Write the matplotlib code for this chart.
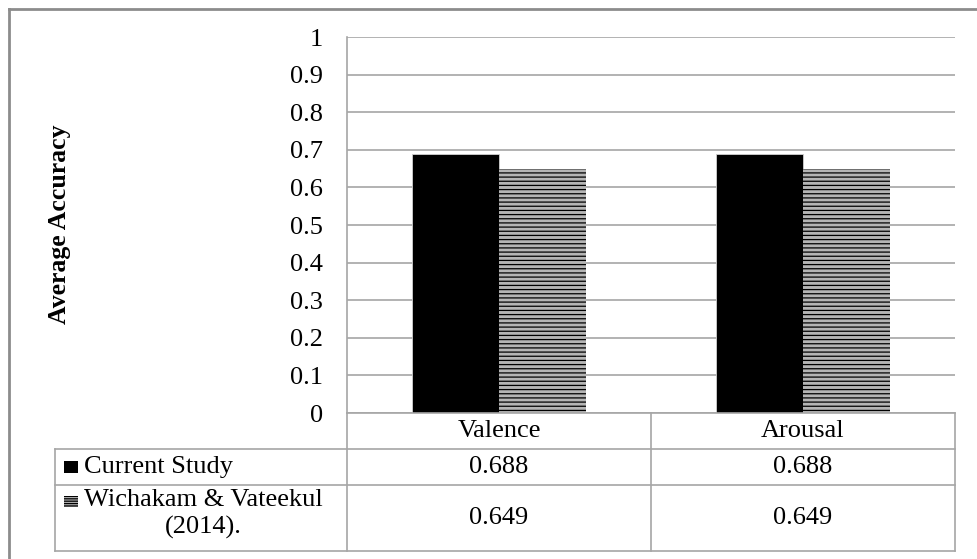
import matplotlib
matplotlib.use("Agg")
import matplotlib.pyplot as plt
import numpy as np
from matplotlib.lines import Line2D
from matplotlib.patches import Rectangle
from matplotlib.transforms import blended_transform_factory

categories = ["Valence", "Arousal"]
series_names = ["Current Study", "Wichakam & Vateekul\n(2014)."]
current_study = [0.688, 0.688]
wichakam = [0.649, 0.649]
yticks = [0, 0.1, 0.2, 0.3, 0.4, 0.5, 0.6, 0.7, 0.8, 0.9, 1]

plt.rcParams["font.family"] = ["Liberation Serif", "DejaVu Serif"]
plt.rcParams["hatch.linewidth"] = 0.9
plt.rcParams["hatch.color"] = "black"

W, H = 978, 559
GRAY = "#a6a6a6"
FS = 19
HATCH_FACE = "#b4b4b4"


def fx(px):
    return px / W


def fy(py):
    return 1 - py / H


fig = plt.figure(figsize=(W / 100, H / 100), dpi=100)
ax = fig.add_axes([fx(347), fy(413), (955 - 347) / W, (413 - 37) / H])

x = np.arange(len(categories))
w = 0.286
ax.bar(x - w / 2, current_study, w, color="black", edgecolor="#d0d0d0", linewidth=0.6)
ax.bar(x + w / 2, wichakam, w, color=HATCH_FACE, hatch="----", edgecolor="black", linewidth=0)

ax.set_xlim(-0.5, 1.5)
ax.set_ylim(0, 1)
ax.set_yticks(yticks)
ax.set_yticklabels([f"{v:g}" for v in yticks], fontsize=FS)
ax.tick_params(left=False, bottom=False, labelbottom=False, pad=14)
ax.yaxis.grid(True, color=GRAY, linewidth=1.2)
ax.set_axisbelow(True)
for s in ["top", "right", "bottom"]:
    ax.spines[s].set_visible(False)
ax.spines["left"].set_color(GRAY)
ax.spines["left"].set_linewidth(1.2)

fig.text(fx(60), fy(224), "Average Accuracy", rotation=90, fontsize=18.5,
         fontweight="bold", ha="center", va="center")


def line(x0, y0, x1, y1, color=GRAY, lw=1.2):
    fig.add_artist(Line2D([fx(x0), fx(x1)], [fy(y0), fy(y1)], color=color, linewidth=lw))


# data table lines
line(347, 413, 955, 413)
for yy in [449, 485, 551]:
    line(55, yy, 955, yy)
line(55, 449, 55, 551)
line(347, 413, 347, 551)
line(651, 413, 651, 551)
line(955, 413, 955, 551)

# outer chart border (top and left only visible)
line(9, 9, 978, 9, color="#8c8c8c", lw=2)
line(9, 9, 9, 559, color="#8c8c8c", lw=2)

tr = blended_transform_factory(ax.transData, fig.transFigure)
row_y = [fy(467), fy(518)]
for i, cat in enumerate(categories):
    ax.text(x[i], fy(431), cat, transform=tr, ha="center", va="center", fontsize=FS)
    ax.text(x[i], row_y[0], f"{current_study[i]:.3f}", transform=tr,
            ha="center", va="center", fontsize=FS)
    ax.text(x[i], row_y[1], f"{wichakam[i]:.3f}", transform=tr,
            ha="center", va="center", fontsize=FS)

# legend keys in the table
fig.add_artist(Rectangle((fx(64), fy(473)), 14 / W, 12 / H, transform=fig.transFigure,
                         facecolor="black", edgecolor="none"))
fig.add_artist(Rectangle((fx(64), fy(507)), 14 / W, 11 / H, transform=fig.transFigure,
                         facecolor=HATCH_FACE, hatch="-------", edgecolor="black", linewidth=0))
fig.text(fx(84), fy(467), series_names[0], ha="left", va="center", fontsize=FS)
fig.text(fx(84), fy(514), series_names[1], ha="left", va="center", fontsize=FS,
         multialignment="center", linespacing=1.3)

fig.savefig("out.png", dpi=100)
